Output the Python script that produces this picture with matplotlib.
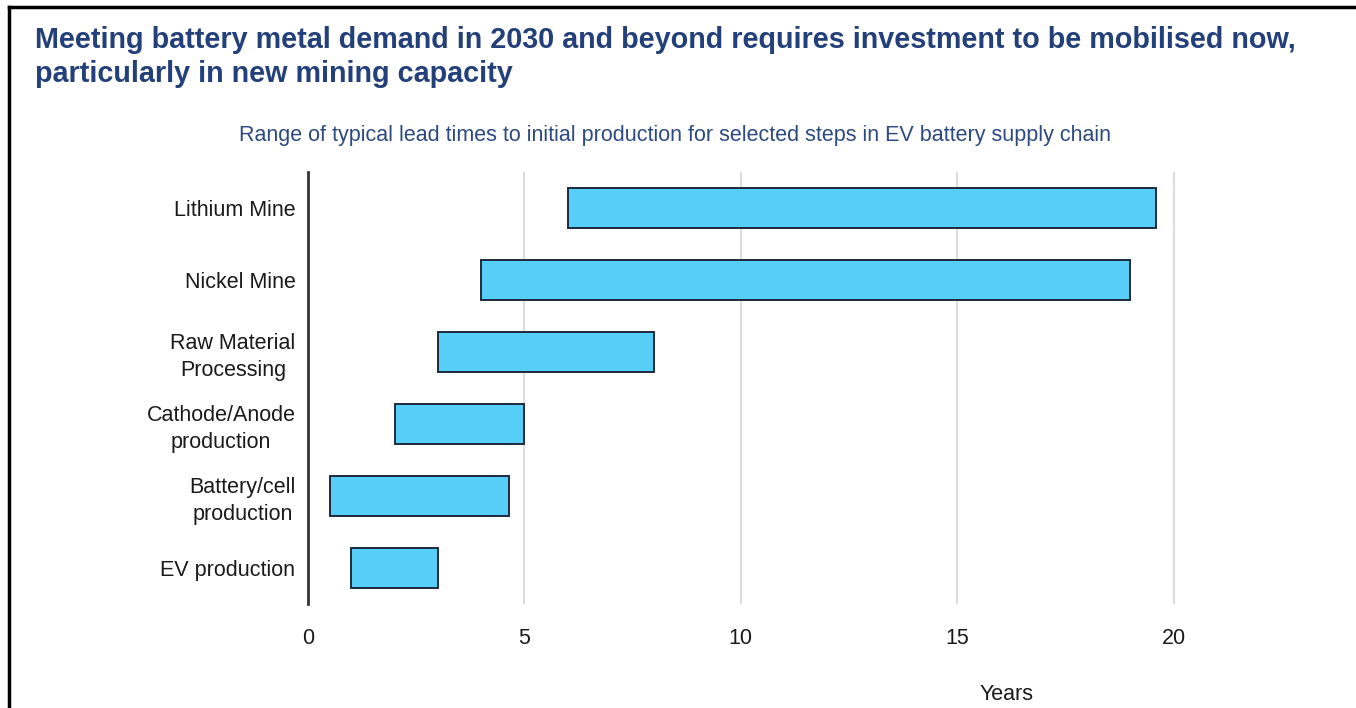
import matplotlib.pyplot as plt
from matplotlib.lines import Line2D

plt.rcParams['font.family'] = ['Liberation Sans', 'DejaVu Sans']

steps = ["Lithium Mine", "Nickel Mine", "Raw Material\nProcessing",
         "Cathode/Anode\nproduction", "Battery/cell\nproduction", "EV production"]
start_years = [6, 4, 3, 2, 0.5, 1]
end_years = [19.6, 19, 8, 5, 4.65, 3]
xticks = [0, 5, 10, 15, 20]

fig = plt.figure(figsize=(13.56, 7.08), dpi=100)
ax = fig.add_axes([0.2271, 0.1469, 0.6704, 0.6102])

ypos = list(range(len(steps)))
widths = [e - s for s, e in zip(start_years, end_years)]
ax.barh(ypos, widths, left=start_years, height=0.56, color='#56CEF8',
        edgecolor='#1c2b3a', linewidth=1.4, zorder=3)

ax.set_ylim(len(steps) - 0.5, -0.5)
ax.set_xlim(0, 21)
ax.set_yticks(ypos)
ax.set_yticklabels(steps, fontsize=15.5, color='#1a1a1a')
ax.set_xticks(xticks)
ax.set_xticklabels([str(t) for t in xticks], fontsize=15.5, color='#1a1a1a')
ax.tick_params(axis='y', length=0, pad=9)
ax.tick_params(axis='x', length=0, pad=17)
for lab in ax.get_yticklabels():
    lab.set_multialignment('center')
    lab.set_linespacing(1.35)

ax.grid(axis='x', color='#dcdcdc', linewidth=1.5, zorder=0)
for s in ['top', 'right', 'bottom']:
    ax.spines[s].set_visible(False)
ax.spines['left'].set_color('#333333')
ax.spines['left'].set_linewidth(2)
ax.spines['left'].set_zorder(4)

ax.set_xlabel('Years', fontsize=15.5, color='#1a1a1a')
ax.xaxis.set_label_coords(0.769, -0.185)

# titles
fig.text(35 / 1356, 1 - 57 / 708,
         "Meeting battery metal demand in 2030 and beyond requires investment to be mobilised now,\n"
         "particularly in new mining capacity",
         fontsize=20.7, fontweight='bold', color='#23407a', va='center', ha='left',
         linespacing=1.25)
fig.text(675 / 1356, 1 - 136 / 708,
         "Range of typical lead times to initial production for selected steps in EV battery supply chain",
         fontsize=15.5, color='#2c4a80', ha='center', va='center')

# frame lines
fig.add_artist(Line2D([9 / 1356, 1], [1 - 7 / 708, 1 - 7 / 708], color='black', linewidth=2.5,
                      transform=fig.transFigure))
fig.add_artist(Line2D([9 / 1356, 9 / 1356], [0, 1 - 7 / 708], color='black', linewidth=2.5,
                      transform=fig.transFigure))

fig.savefig('out.png', dpi=100, facecolor='white')
